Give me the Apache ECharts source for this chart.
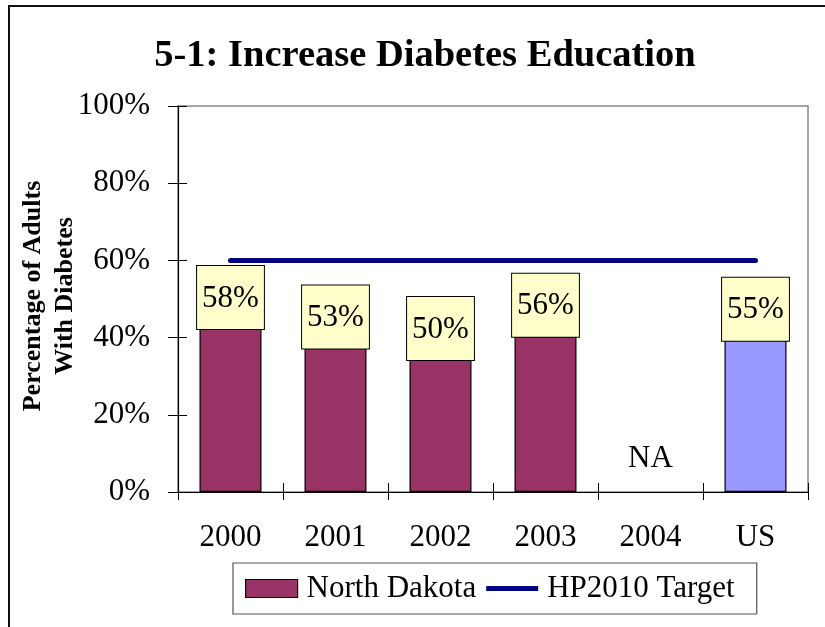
<!DOCTYPE html>
<html>
<head>
<meta charset="utf-8">
<script src="https://cdn.jsdelivr.net/npm/echarts@6/dist/echarts.min.js"></script>
<style>
  html, body { margin: 0; padding: 0; background: #fff; }
  #chart { width: 825px; height: 627px; }
</style>
</head>
<body>
<div id="chart"></div>
<script>
// chart data
var categories = ['2000', '2001', '2002', '2003', '2004', 'US'];
var ndValues = [58, 53, 50, 56, null, 55];   // null = NA
var targetValues = [60, 60, 60, 60, 60, 60];
var yTicks = [0, 20, 40, 60, 80, 100];

var serif = '"Liberation Serif", "DejaVu Serif", serif';

var barData = ndValues.map(function (v, i) {
    if (v === null) {
        // 2004 has no data, show NA above the axis
        return {
            value: 0,
            itemStyle: { borderWidth: 0, color: 'transparent' },
            label: {
                position: 'top', distance: 15, formatter: 'NA',
                backgroundColor: 'transparent', borderWidth: 0, padding: 0
            }
        };
    }
    if (categories[i] === 'US') {
        return { value: v, itemStyle: { color: '#9999FF' } };
    }
    return v;
});

var chart = echarts.init(document.getElementById('chart'));

var options = {
    animation: false,
    textStyle: { fontFamily: serif, color: '#000' },
    title: {
        text: '5-1: Increase Diabetes Education',
        left: 420, top: 32, textAlign: 'center',
        textStyle: { fontFamily: serif, fontSize: 38.5, fontWeight: 'bold', color: '#000' }
    },
    graphic: [{
        type: 'rect',
        shape: { x: 9, y: 6, width: 840, height: 640 },
        style: { fill: 'none', stroke: '#111', lineWidth: 2 },
        silent: true
    }, {
        type: 'text',
        x: 49, y: 296,
        rotation: Math.PI / 2,
        style: {
            text: 'Percentage of Adults\nWith Diabetes',
            font: 'bold 26px ' + serif,
            fill: '#000',
            align: 'center',
            verticalAlign: 'middle',
            lineHeight: 32
        },
        silent: true
    }],
    legend: {
        left: 233, top: 563,
        padding: [10, 22, 10, 12],
        itemGap: 10,
        itemWidth: 52, itemHeight: 18,
        borderColor: '#555', borderWidth: 1.2,
        backgroundColor: '#fff',
        textStyle: { fontFamily: serif, fontSize: 31, color: '#000', padding: [0, 0, 0, 4] },
        data: [
            { name: 'North Dakota', icon: 'rect', itemStyle: { color: '#993366', borderColor: '#000', borderWidth: 1.2 } },
            { name: 'HP2010 Target', icon: 'path://M0,0 L52,0 L52,5 L0,5 Z', itemStyle: { color: '#000080' } }
        ]
    },
    grid: {
        left: 178, top: 106, right: 17, bottom: 135,
        show: true, borderColor: '#888', borderWidth: 1.5
    },
    xAxis: [{
        type: 'category',
        data: categories,
        axisLine: { lineStyle: { color: '#000', width: 1.2 } },
        axisTick: { show: true, length: 8, lineStyle: { color: '#000' } },
        axisLabel: { fontFamily: serif, fontSize: 31, color: '#000', margin: 30 }
    }, {
        type: 'category',
        data: categories,
        position: 'bottom',
        axisLine: { show: false },
        axisTick: { show: true, inside: true, length: 9, lineStyle: { color: '#000' } },
        axisLabel: { show: false }
    }],
    yAxis: [{
        type: 'value',
        min: 0, max: 100, interval: 20,
        axisLine: { show: true, lineStyle: { color: '#000', width: 1.2 } },
        axisTick: { show: true, length: 10, lineStyle: { color: '#000' } },
        splitLine: { show: false },
        axisLabel: {
            fontFamily: serif, fontSize: 31, color: '#000', margin: 28,
            formatter: function (v) { return yTicks.indexOf(v) >= 0 ? v + '%' : ''; }
        }
    }, {
        type: 'value',
        min: 0, max: 100, interval: 20,
        position: 'left',
        axisLine: { show: false },
        axisTick: { show: true, inside: true, length: 9, lineStyle: { color: '#000' } },
        splitLine: { show: false },
        axisLabel: { show: false }
    }],
    series: [{
        name: 'North Dakota',
        type: 'bar',
        barWidth: 62,
        data: barData,
        itemStyle: { color: '#993366', borderColor: '#000', borderWidth: 1.2 },
        label: {
            show: true,
            position: 'insideTop',
            distance: 0,
            offset: [0, -2],
            formatter: '{c}%',
            fontFamily: serif, fontSize: 31, color: '#000',
            backgroundColor: '#FFFFCC',
            borderColor: '#000', borderWidth: 1,
            padding: [16, 5, 14, 5],
            lineHeight: 33
        },
        z: 3
    }, {
        name: 'HP2010 Target',
        type: 'line',
        data: targetValues,
        symbol: 'none',
        lineStyle: { color: '#000080', width: 5, cap: 'round' },
        itemStyle: { color: '#000080' },
        z: 2
    }]
};

chart.setOption(options);
</script>
</body>
</html>
